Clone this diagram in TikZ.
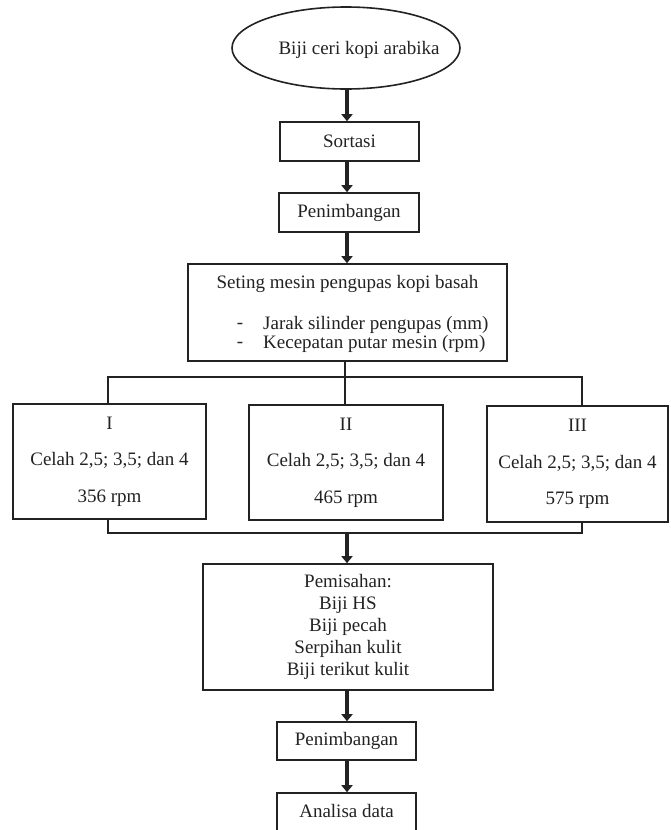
\documentclass[tikz,border=0pt]{standalone}
\usepackage{fontspec}
\setmainfont{Liberation Serif}
\usetikzlibrary{arrows.meta,shapes.geometric}
\definecolor{ink}{HTML}{222222}
\begin{document}
\begin{tikzpicture}[x=1pt,y=-1pt,
  txt/.style={text=ink, inner sep=0pt, align=center, font=\fontsize{19}{22}\selectfont},
  procbox/.style={draw=ink, line width=1.6pt, inner sep=0pt, txt},
  optbox/.style={procbox, font=\fontsize{19}{36.5}\selectfont},
  flow/.style={draw=ink, line width=3.8pt, -{Triangle[length=7pt,width=11pt]}},
  tree/.style={draw=ink, line width=2.4pt}]
\path[use as bounding box] (0,0) rectangle (670,830);
\clip (0,0) rectangle (670,830);
% top
\node[ellipse, draw=ink, line width=1.6pt, minimum width=228pt, minimum height=82pt, inner sep=0pt] (start) at (346,48) {};
\node[txt] (starttext) at (359,50) {Biji ceri kopi arabika};
\node[procbox, minimum width=139pt, minimum height=39pt] (sort) at (349.5,141.5) {Sortasi};
\node[procbox, minimum width=140pt, minimum height=39pt] (pen1) at (349,212.5) {Penimbangan};
% setting box
\node[procbox, minimum width=319pt, minimum height=97pt] (set) at (347.5,312.5) {};
\node[txt] (set1) at (347.5,284) {Seting mesin pengupas kopi basah};
\node[txt] (dash1) at (240,326) {-};
\node[txt] (dash2) at (240,345) {-};
\node[txt, anchor=west] (set2) at (263,325) {Jarak silinder pengupas (mm)};
\node[txt, anchor=west] (set3) at (263,344) {Kecepatan putar mesin (rpm)};
% options
\node[optbox, minimum width=193pt, minimum height=115pt] (b1) at (109.5,461.5) {I\\Celah 2,5; 3,5; dan 4\\356 rpm};
\node[optbox, minimum width=194pt, minimum height=115pt] (b2) at (346,462.5) {II\\Celah 2,5; 3,5; dan 4\\465 rpm};
\node[optbox, minimum width=181pt, minimum height=116pt] (b3) at (577.5,464) {III\\Celah 2,5; 3,5; dan 4\\575 rpm};
% separation
\node[procbox, minimum width=290pt, minimum height=126pt] (pem) at (348,627) {Pemisahan:\\Biji HS\\Biji pecah\\Serpihan kulit\\Biji terikut kulit};
\node[procbox, minimum width=139pt, minimum height=38pt] (pen2) at (346.5,741) {Penimbangan};
\node[procbox, minimum width=139pt, minimum height=60pt] (ana) at (346.5,823) {};
\node[txt] (anatext) at (346.5,811) {Analisa data};
% connectors
\coordinate (split) at (345,377);
\coordinate (join) at (347,533);
\draw[flow] (start.south -| 347,0) -- (347,0 |- sort.north);
\draw[flow] (sort.south -| 347,0) -- (347,0 |- pen1.north);
\draw[flow] (pen1.south -| 347,0) -- (347,0 |- set.north);
\draw[tree] (set.south -| split) -- (split);
\draw[tree] (b1.north -| 108,0) |- (split) -| (b3.north -| 582,0);
\draw[tree] (split) -- (split |- b2.north);
\draw[tree] (b1.south -| 108,0) |- (join) -| (b3.south -| 582,0);
\draw[flow] (join) -- (join |- pem.north);
\draw[flow] (pem.south -| 347,0) -- (347,0 |- pen2.north);
\draw[flow] (pen2.south -| 347,0) -- (347,0 |- ana.north);
\end{tikzpicture}
\end{document}
